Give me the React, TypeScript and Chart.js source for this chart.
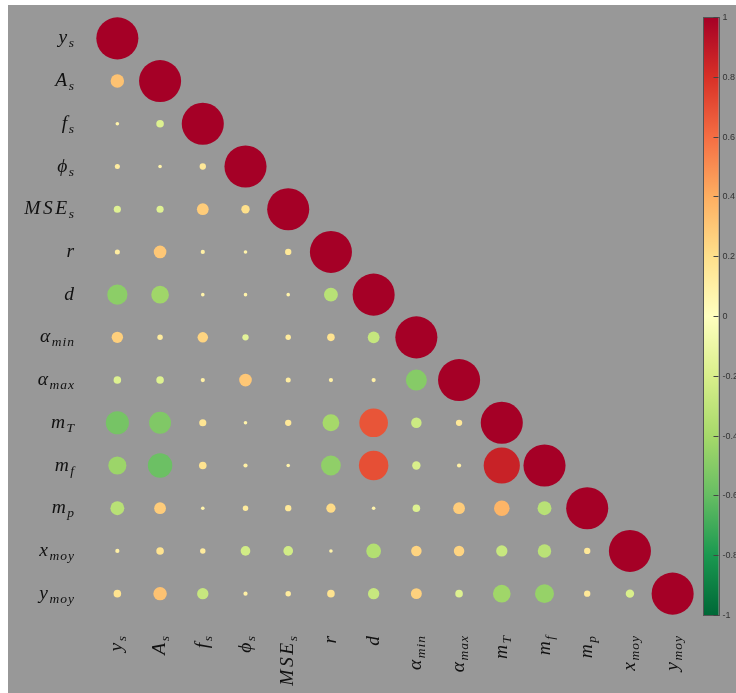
import React, { useEffect, useRef } from 'react';
import { Chart, registerables } from 'chart.js';

Chart.register(...registerables);

// Variable names: main symbol + subscript (LaTeX-like)
const labelMain = ['y', 'A', 'f', 'ϕ', 'MSE', 'r', 'd', 'α', 'α', 'm', 'm', 'm', 'x', 'y'];
const labelSub = ['s', 's', 's', 's', 's', '', '', 'min', 'max', 'T', 'f', 'p', 'moy', 'moy'];

// Lower-triangular correlation matrix (row i, columns 0..i)
const corrLower: number[][] = [
  [1],
  [0.32, 1],
  [0.08, -0.18, 1],
  [0.12, 0.08, 0.15, 1],
  [-0.17, -0.17, 0.28, 0.2, 1],
  [0.12, 0.3, 0.1, 0.08, 0.15, 1],
  [-0.48, -0.42, 0.08, 0.08, 0.08, -0.33, 1],
  [0.27, 0.13, 0.25, -0.15, 0.13, 0.18, -0.28, 1],
  [-0.18, -0.18, 0.1, 0.3, 0.12, 0.1, 0.1, -0.5, 1],
  [-0.55, -0.52, 0.17, 0.08, 0.15, -0.4, 0.68, -0.25, 0.15, 1],
  [-0.43, -0.58, 0.18, 0.1, 0.08, -0.47, 0.7, -0.2, 0.1, 0.86, 1],
  [-0.33, 0.28, 0.08, 0.13, 0.15, 0.22, 0.08, -0.18, 0.28, 0.37, -0.33, 1],
  [0.1, 0.18, 0.13, -0.23, -0.23, 0.08, -0.35, 0.25, 0.25, -0.27, -0.32, 0.15, 1],
  [0.18, 0.32, -0.27, 0.1, 0.13, 0.18, -0.27, 0.26, -0.18, -0.42, -0.45, 0.15, -0.2, 1],
];

const colorbarTicks = [1, 0.8, 0.6, 0.4, 0.2, 0, -0.2, -0.4, -0.6, -0.8, -1];
// RdYlGn reversed: from -1 (green) to +1 (red)
const cmapStops = ['#006837', '#1a9850', '#66bd63', '#a6d96a', '#d9ef8b', '#ffffbf', '#fee08b', '#fdae61', '#f46d43', '#d73027', '#a50026'];

const BG = '#989898';

function hexToRgb(h: string) {
  return [parseInt(h.slice(1, 3), 16), parseInt(h.slice(3, 5), 16), parseInt(h.slice(5, 7), 16)];
}
function colorFor(v: number) {
  const t = (Math.max(-1, Math.min(1, v)) + 1) / 2 * (cmapStops.length - 1);
  const i = Math.min(cmapStops.length - 2, Math.floor(t));
  const f = t - i;
  const a = hexToRgb(cmapStops[i]);
  const b = hexToRgb(cmapStops[i + 1]);
  const c = a.map((x, k) => Math.round(x + (b[k] - x) * f));
  return `rgb(${c[0]},${c[1]},${c[2]})`;
}

const MAIN_FONT = 'italic 19.5px "Liberation Serif", "DejaVu Serif", serif';
const SUB_FONT = 'italic 13.5px "Liberation Serif", "DejaVu Serif", serif';

function spacedWidth(ctx: CanvasRenderingContext2D, s: string, sp: number) {
  let w = 0;
  for (const ch of s) w += ctx.measureText(ch).width + sp;
  return s.length ? w - sp : 0;
}
function drawSpaced(ctx: CanvasRenderingContext2D, s: string, x: number, y: number, sp: number) {
  let cx = x;
  for (const ch of s) {
    ctx.fillText(ch, cx, y);
    cx += ctx.measureText(ch).width + sp;
  }
}

function drawMath(ctx: CanvasRenderingContext2D, x: number, y: number, main: string, sub: string) {
  const mainSp = 2.5;
  const subSp = 1;
  ctx.font = MAIN_FONT;
  const wm = spacedWidth(ctx, main, mainSp);
  ctx.font = SUB_FONT;
  const ws = sub ? spacedWidth(ctx, sub, subSp) + 1.5 : 0;
  const start = x - wm - ws;
  ctx.textAlign = 'left';
  ctx.textBaseline = 'alphabetic';
  ctx.fillStyle = '#111111';
  ctx.font = MAIN_FONT;
  drawSpaced(ctx, main, start, y, mainSp);
  if (sub) {
    ctx.font = SUB_FONT;
    drawSpaced(ctx, sub, start + wm + 1.5, y + 4, subSp);
  }
}

const decorPlugin = {
  id: 'decor',
  beforeDraw(chart: any) {
    const ctx = chart.ctx;
    ctx.save();
    ctx.fillStyle = BG;
    ctx.fillRect(0, 0, chart.width, chart.height);
    ctx.restore();
  },
  afterDraw(chart: any) {
    const ctx: CanvasRenderingContext2D = chart.ctx;
    const xs = chart.scales.x;
    const ys = chart.scales.y;
    const cb = chart.scales.cb;
    const area = chart.chartArea;
    ctx.save();
    labelMain.forEach((m, i) => {
      drawMath(ctx, area.left - 22, ys.getPixelForValue(i) + 5, m, labelSub[i]);
    });
    labelMain.forEach((m, i) => {
      ctx.save();
      ctx.translate(xs.getPixelForValue(i) + 5, area.bottom + 21);
      ctx.rotate(-Math.PI / 2);
      drawMath(ctx, 0, 0, m, labelSub[i]);
      ctx.restore();
    });
    // colorbar
    const x0 = area.right + 9;
    const w = 15.5;
    const yTop = cb.getPixelForValue(1);
    const yBot = cb.getPixelForValue(-1);
    const grad = ctx.createLinearGradient(0, yBot, 0, yTop);
    cmapStops.forEach((c, k) => grad.addColorStop(k / (cmapStops.length - 1), c));
    ctx.fillStyle = grad;
    ctx.fillRect(x0, yTop, w, yBot - yTop);
    ctx.strokeStyle = '#555555';
    ctx.lineWidth = 1;
    ctx.strokeRect(Math.round(x0) + 0.5, Math.round(yTop) + 0.5, Math.round(w), Math.round(yBot - yTop));
    ctx.font = '9px "Liberation Sans", Arial, sans-serif';
    ctx.fillStyle = '#333333';
    ctx.textAlign = 'left';
    ctx.textBaseline = 'middle';
    colorbarTicks.forEach((t) => {
      const py = Math.round(cb.getPixelForValue(t)) + 0.5;
      ctx.beginPath();
      ctx.moveTo(x0 + w - 5, py);
      ctx.lineTo(x0 + w, py);
      ctx.strokeStyle = '#444444';
      ctx.stroke();
      ctx.fillText(String(t), x0 + w + 4, py);
    });
    ctx.restore();
  },
};

export default function App() {
  const ref = useRef<HTMLCanvasElement>(null);
  useEffect(() => {
    if (!ref.current) return;
    const points: { x: number; y: number; v: number }[] = [];
    corrLower.forEach((row, i) => {
      row.forEach((v, j) => {
        points.push({ x: j, y: i, v });
      });
    });
    const radiusFn = (c: any) => {
      const xs = c.chart.scales.x;
      if (!xs) return 2;
      const cell = Math.abs(xs.getPixelForValue(1) - xs.getPixelForValue(0));
      const v = c.raw && typeof c.raw.v === 'number' ? Math.abs(c.raw.v) : 0;
      return Math.max(1.8, (cell / 2) * 0.985 * v);
    };
    const colorFn = (c: any) => colorFor(c.raw && typeof c.raw.v === 'number' ? c.raw.v : 0);
    const chart = new Chart(ref.current, {
      type: 'scatter',
      data: {
        datasets: [
          {
            data: points as any,
            showLine: false,
            pointRadius: radiusFn,
            pointHoverRadius: radiusFn,
            pointBackgroundColor: colorFn,
            pointHoverBackgroundColor: colorFn,
            pointBorderWidth: 0,
            pointHoverBorderWidth: 0,
            pointBorderColor: 'rgba(0,0,0,0)',
          } as any,
        ],
      },
      options: {
        responsive: false,
        animation: false,
        events: [],
        layout: { padding: { left: 88, right: 42, top: 12, bottom: 78 } },
        plugins: { legend: { display: false }, tooltip: { enabled: false } },
        scales: {
          x: { type: 'linear', min: -0.5, max: 13.5, display: false },
          y: { type: 'linear', min: -0.5, max: 13.5, reverse: true, display: false },
          cb: { type: 'linear', position: 'right', min: -1, max: 1, display: false },
        },
      },
      plugins: [decorPlugin],
    });
    return () => chart.destroy();
  }, []);
  return (
    <div style={{ position: 'fixed', left: 8, top: 5, width: 728, height: 688 }}>
      <canvas ref={ref} width={728} height={688} style={{ display: 'block' }} />
    </div>
  );
}
